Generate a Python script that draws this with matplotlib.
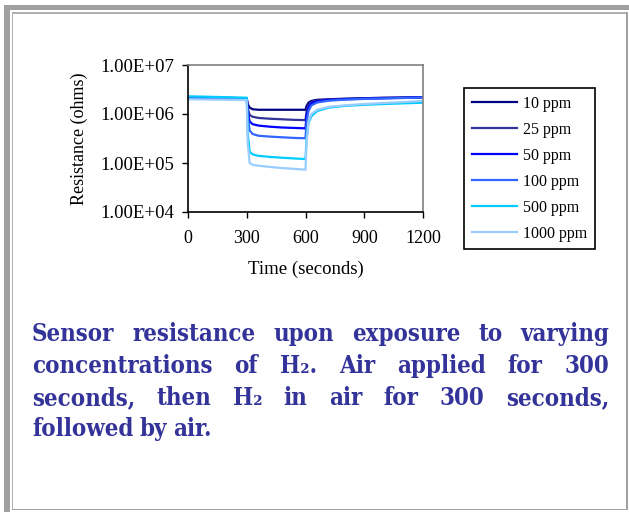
import numpy as np
import matplotlib
matplotlib.use('Agg')
import matplotlib.pyplot as plt
from matplotlib.patches import Rectangle
from matplotlib.ticker import FixedLocator, FuncFormatter, NullLocator

W, H = 629, 513

# sample times (seconds)
time = [0, 100, 200, 300, 305, 315, 330, 360, 420, 480, 540, 600,
        605, 615, 630, 660, 720, 800, 900, 1000, 1100, 1200]

# resistance (ohms)
r_10 = [2.2e6, 2.15e6, 2.12e6, 2.1e6, 1.6e6, 1.35e6, 1.25e6, 1.22e6, 1.22e6, 1.22e6, 1.22e6, 1.22e6,
        1.45e6, 1.7e6, 1.85e6, 1.95e6, 2.0e6, 2.05e6, 2.1e6, 2.15e6, 2.17e6, 2.2e6]
r_25 = [2.2e6, 2.15e6, 2.12e6, 2.1e6, 1.3e6, 9.5e5, 8.8e5, 8.3e5, 8.0e5, 7.8e5, 7.6e5, 7.5e5,
        1.1e6, 1.5e6, 1.75e6, 1.88e6, 1.97e6, 2.03e6, 2.08e6, 2.12e6, 2.15e6, 2.2e6]
r_50 = [2.2e6, 2.15e6, 2.12e6, 2.1e6, 1.1e6, 7.0e5, 6.2e5, 5.8e5, 5.5e5, 5.3e5, 5.2e5, 5.1e5,
        9.0e5, 1.35e6, 1.65e6, 1.82e6, 1.93e6, 2.0e6, 2.06e6, 2.1e6, 2.14e6, 2.2e6]
r_100 = [2.2e6, 2.15e6, 2.12e6, 2.1e6, 9.0e5, 4.6e5, 3.9e5, 3.6e5, 3.45e5, 3.35e5, 3.25e5, 3.2e5,
         6.5e5, 1.15e6, 1.5e6, 1.72e6, 1.87e6, 1.96e6, 2.03e6, 2.08e6, 2.12e6, 2.17e6]
r_500 = [2.3e6, 2.25e6, 2.2e6, 2.15e6, 4.0e5, 1.7e5, 1.5e5, 1.4e5, 1.33e5, 1.28e5, 1.24e5, 1.2e5,
         3.0e5, 6.5e5, 9.0e5, 1.15e6, 1.35e6, 1.46e6, 1.54e6, 1.6e6, 1.65e6, 1.7e6]
r_1000 = [2.0e6, 1.98e6, 1.95e6, 1.92e6, 2.5e5, 1.0e5, 9.2e4, 8.8e4, 8.3e4, 7.9e4, 7.6e4, 7.3e4,
          2.5e5, 7.0e5, 1.0e6, 1.22e6, 1.4e6, 1.5e6, 1.6e6, 1.68e6, 1.75e6, 1.85e6]

labels = ['10 ppm', '25 ppm', '50 ppm', '100 ppm', '500 ppm', '1000 ppm']
series = [r_10, r_25, r_50, r_100, r_500, r_1000]
colors = ['#000080', '#333399', '#0000ff', '#3366ff', '#00ccff', '#99ccff']

x_ticks = [0, 300, 600, 900, 1200]
y_ticks = [1e4, 1e5, 1e6, 1e7]

caption_lines = [
	'Sensor resistance upon exposure to varying',
	'concentrations of H\u2082.  Air applied for 300',
	'seconds, then H\u2082 in air for 300 seconds,',
	'followed by air.',
]


def fx(x):
	return x / W


def fy(y):
	return 1 - y / H


def box(fig, x0, y0, x1, y1, color):
	fig.add_artist(Rectangle((fx(x0), fy(y1)), fx(x1) - fx(x0), fy(y0) - fy(y1),
		transform=fig.transFigure, facecolor=color, edgecolor='none', zorder=0))


plt.rc('font', family='Liberation Serif')
fig = plt.figure(figsize=(W / 100, H / 100), dpi=100)

# slide frame
box(fig, 4, 5, 629, 9.5, '#a0a0a0')
box(fig, 4, 5, 9.5, 512, '#a0a0a0')
box(fig, 11.5, 12, 627, 13.5, '#b0b0b0')
box(fig, 11.5, 12, 13, 510, '#b0b0b0')
box(fig, 626, 12, 627.5, 510, '#a0a0a0')
box(fig, 11.5, 508.5, 627.5, 510, '#a0a0a0')

ax = fig.add_axes([fx(188), fy(212), fx(423) - fx(188), fy(65) - fy(212)])
for vals, lab, c in zip(series, labels, colors):
	ax.plot(time, vals, color=c, lw=1.6, label=lab)

ax.set_yscale('log')
ax.set_ylim(1e4, 1e7)
ax.set_xlim(0, 1200)
ax.yaxis.set_major_locator(FixedLocator(y_ticks))
ax.yaxis.set_minor_locator(NullLocator())
ax.yaxis.set_major_formatter(FuncFormatter(lambda v, p: '1.00E+%02d' % round(np.log10(v))))
ax.set_xticks(x_ticks)

ax.spines['top'].set_color('#808080')
ax.spines['right'].set_color('#808080')
ax.spines['left'].set_color('black')
ax.spines['bottom'].set_color('black')
for s in ax.spines.values():
	s.set_linewidth(1.2)
ax.tick_params(axis='y', direction='out', length=4, width=1, pad=6, labelsize=13.5)
ax.tick_params(axis='x', direction='out', length=4, width=1, pad=9, labelsize=13)

ax.set_ylabel('Resistance (ohms)', fontsize=13, labelpad=9)
ax.set_xlabel('Time (seconds)', fontsize=13.5, labelpad=10)

leg = fig.legend(loc='upper left', bbox_to_anchor=(fx(464), fy(88)), borderaxespad=0,
	fancybox=False, framealpha=1, edgecolor='black', fontsize=11.5,
	handlelength=2.8, handletextpad=0.4, labelspacing=0.62, borderpad=0.5)
leg.get_frame().set_linewidth(1.2)

# justified caption
renderer = fig.canvas.get_renderer()
cap_left, cap_right = 32, 609
baselines = [341, 373, 405, 436]
for i, line in enumerate(caption_lines):
	words = line.split()
	texts = [fig.text(0, fy(baselines[i]), w, fontsize=17.2, family='DejaVu Serif',
		weight='bold', stretch='condensed', color='#333399', va='baseline', ha='left')
		for w in words]
	widths = [t.get_window_extent(renderer).width for t in texts]
	if i < len(caption_lines) - 1:
		gap = (cap_right - cap_left - sum(widths)) / (len(words) - 1)
	else:
		gap = 6
	x = cap_left
	for t, w in zip(texts, widths):
		t.set_x(fx(x))
		x += w + gap

fig.savefig('out.png', dpi=100)
